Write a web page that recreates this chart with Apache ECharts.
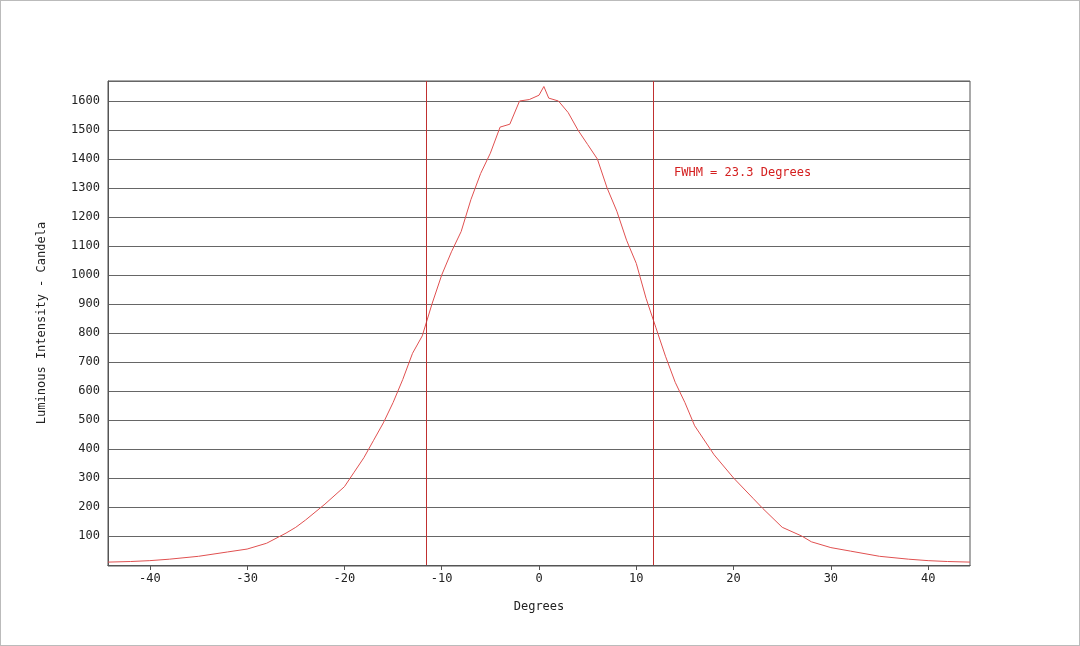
<!DOCTYPE html><html><head><meta charset="utf-8">
<script src="https://cdn.jsdelivr.net/npm/echarts@6/dist/echarts.min.js"></script>
<style>html,body{margin:0;padding:0;background:#fff}#c{width:1078px;height:644px;border:1px solid #bbb}</style>
</head><body><div id="c"></div><script>
const degrees=[-44.3,-42,-40,-38,-35,-32,-30,-28,-26,-25,-24,-22,-20,-19,-18,-17,-16,-15,-14,-13,-12,-11,-10,-9,-8,-7,-6,-5,-4,-3,-2,-1,0,0.5,1,2,3,4,5,6,7,8,9,10,11,12,13,14,15,16,18,20,22,23,25,27,28,30,32,35,38,40,42,44.3];
const intensity=[10,12,15,20,30,45,55,75,110,130,155,210,270,320,370,430,490,560,640,730,790,900,1000,1080,1150,1260,1350,1420,1510,1520,1600,1605,1620,1650,1610,1600,1560,1500,1450,1400,1300,1220,1120,1040,920,820,720,630,560,480,380,300,230,195,130,100,80,60,48,30,20,15,12,10];
const fwhmLines=[-11.6,11.7];
const xTicks=[-40,-30,-20,-10,0,10,20,30,40];
const yTicks=[100,200,300,400,500,600,700,800,900,1000,1100,1200,1300,1400,1500,1600];
const ch=echarts.init(document.getElementById('c'));
const font='DejaVu Sans Mono';
ch.setOption({
 animation:false,
 grid:{left:107,right:109,top:80,bottom:80},
 xAxis:{type:'value',min:-44.3,max:44.3,name:'Degrees',nameLocation:'middle',nameGap:36,
  nameTextStyle:{fontFamily:font,fontSize:12,color:'#222'},
  axisLine:{show:true,onZero:false,lineStyle:{color:'#555'}},
  axisTick:{show:true,customValues:xTicks,lineStyle:{color:'#555'}},
  axisLabel:{customValues:xTicks,fontFamily:font,fontSize:12,color:'#222',formatter:v=>String(v)},
  splitLine:{show:false}},
 yAxis:{type:'value',min:0,max:1669,name:'Luminous Intensity - Candela',nameLocation:'middle',nameGap:60,
  nameTextStyle:{fontFamily:font,fontSize:12,color:'#222'},
  axisLine:{show:true,onZero:false,lineStyle:{color:'#555'}},
  axisTick:{show:false},
  axisLabel:{customValues:yTicks,fontFamily:font,fontSize:12,color:'#222',formatter:v=>String(v)},
  splitLine:{show:true,lineStyle:{color:'#666',width:1}},
  interval:100},
 graphic:[{type:'rect',z:-1,shape:{x:107,y:80,width:862,height:485},style:{fill:'none',stroke:'#555',lineWidth:1},silent:true},
  {type:'text',left:673,top:166,style:{text:'FWHM = 23.3 Degrees',fontFamily:font,fontSize:12,fill:'#d42020'}}],
 series:[{type:'line',data:degrees.map((d,i)=>[d,intensity[i]]),showSymbol:false,smooth:false,
  lineStyle:{color:'#e05050',width:1},
  markLine:{silent:true,symbol:'none',label:{show:false},lineStyle:{color:'#c03030',type:'solid',width:1},
   data:fwhmLines.map(v=>({xAxis:v}))}}]
});
</script></body></html>
